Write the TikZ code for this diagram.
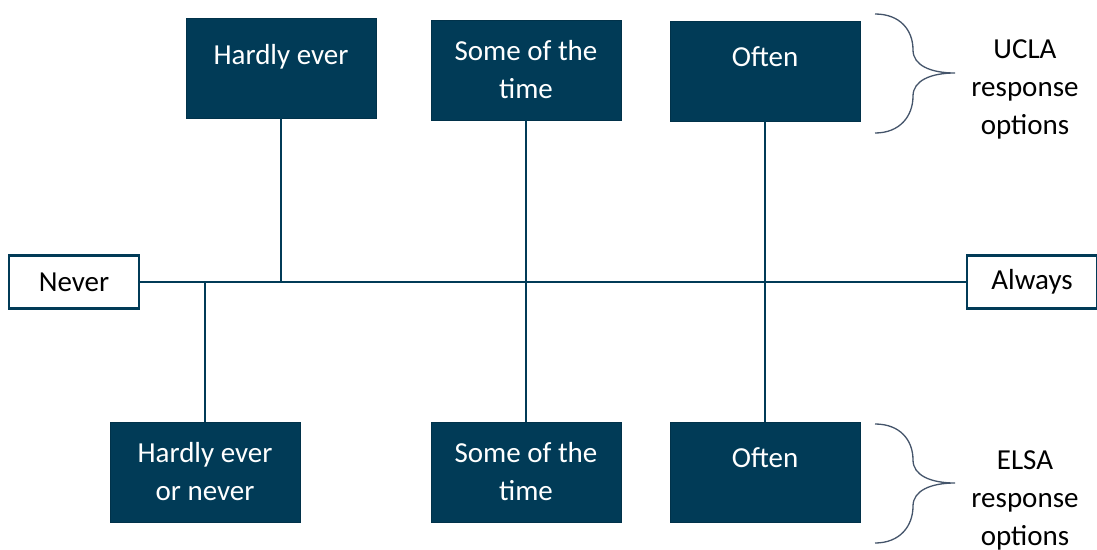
\documentclass[tikz,border=0pt]{standalone}
\usepackage{fontspec}
\setmainfont{Carlito}
\usepackage{tikz}
\definecolor{navy}{RGB}{1,59,87}
\definecolor{bracegray}{RGB}{68,84,106}
\tikzstyle{answer} = [rectangle, draw=navy!85!black, fill=navy, text=white, minimum width=190pt, minimum height=100pt, align=center, inner sep=2pt]
\tikzstyle{pole} = [rectangle, draw=navy, line width=2.5pt, fill=white, minimum width=130pt, minimum height=53pt]
\tikzstyle{link} = [draw=navy, line width=1.3pt]
\tikzstyle{curly} = [draw=bracegray, line width=1.3pt]

\begin{document}
\begin{tikzpicture}[x=1pt, y=-1pt, font=\fontsize{29}{38}\selectfont]
    \useasboundingbox (0,0) rectangle (1097,549);
    % the scale from never to always
    \node[pole] (never) at (74,282) {Never};
    \node[pole] (always) at (1032,282) {Always};
    \draw[link] (never) -- (always);
    % UCLA options above, ELSA options below
    \node[answer, text depth=28pt] (hard) at (281,68) {Hardly ever};
    \node[answer] (some) at (526,70) {Some of the\\time};
    \node[answer, text depth=28pt] (often) at (765,71) {Often};
    \node[answer] (hardnever) at (205,472) {Hardly ever\\or never};
    \node[answer] (some2) at (526,472) {Some of the\\time};
    \node[answer, text depth=28pt] (often2) at (765,472) {Often};
    \draw[link] (hard.south) -- (hard.south |- never.east);
    \draw[link] (hardnever.north) -- (hardnever.north |- never.east);
    \draw[link] (some.south) -- (some2.north);
    \draw[link] (often.south) -- (often2.north);
    % braces
    \foreach \d in {0,410}
        \draw[curly, shift={(0,\d)}] (875,14) .. controls (900,14) and (913,30) .. (913,50)
            .. controls (913,65) and (930,73) .. (955,73)
            .. controls (930,73) and (913,81) .. (913,96)
            .. controls (913,116) and (900,133) .. (875,133);
    \node[align=center] (ucla) at (1025,89) {UCLA\\response\\options};
    \node[align=center] (elsa) at (1025,500) {ELSA\\response\\options};
\end{tikzpicture}
\end{document}
